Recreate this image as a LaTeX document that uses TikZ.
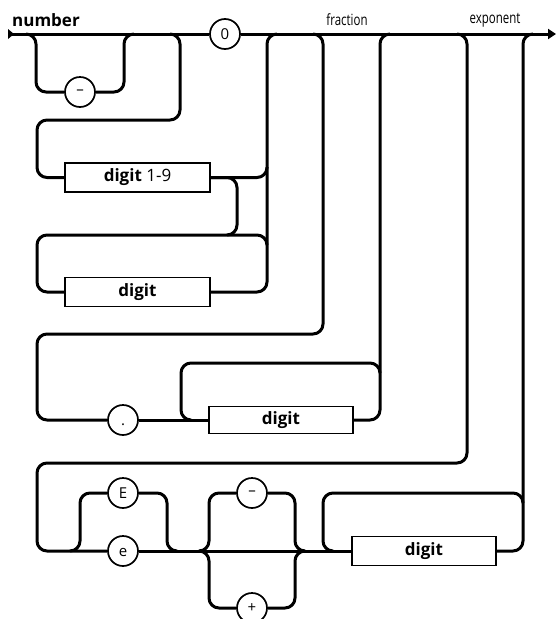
\documentclass[tikz,border=0pt]{standalone}
\usepackage{fontspec}
\setmainfont{Open Sans}
\newfontfamily\condfont[FakeStretch=0.74]{Open Sans}
\usetikzlibrary{arrows.meta}
\begin{document}
\begin{tikzpicture}[x=1pt,y=-1pt,
  rail/.style={line width=3pt, rounded corners=10pt, line join=round},
  term/.style={circle, draw, line width=1.7pt, fill=white, minimum size=30pt, inner sep=0pt, font=\fontsize{15}{15}\selectfont},
  nonterm/.style={rectangle, draw, line width=1.7pt, fill=white, minimum width=145pt, minimum height=29pt, inner sep=0pt, font=\fontsize{17}{17}\selectfont},
  lbl/.style={font=\condfont\fontsize{15.5}{15.5}\selectfont, inner sep=0pt}
]
\useasboundingbox (0,0) rectangle (556,619);

% labels
\node[font=\bfseries\fontsize{17}{17}\selectfont, anchor=west, inner sep=0pt] (title) at (12,20) {number};
\node[lbl] (frac) at (347,20) {fraction};
\node[lbl] (expo) at (495,20) {exponent};

% terminals
\node[term] (zero) at (225,34) {0};
\node[term] (neg) at (80,92) {–};
\node[term] (dot) at (123,420) {\vphantom{0}.};
\node[term] (bigE) at (123,493) {E};
\node[term] (smalle) at (123,551) {\vphantom{0}e};
\node[term] (expneg) at (252,493) {–};
\node[term] (exppos) at (252,608) {+};

% non-terminals
\node[nonterm] (d19) at (137.5,177.5) {\textbf{digit} 1-9};
\node[nonterm] (dig) at (137.5,292) {\textbf{digit}};
\node[nonterm, minimum width=144pt, minimum height=27pt] (fdig) at (281,420) {\textbf{digit}};
\node[nonterm, minimum width=144pt] (edig) at (424,551) {\textbf{digit}};

\coordinate (start) at (9,34);
\coordinate (finish) at (556,34);

% main line
\fill (8,29) -- (14,34) -- (8,39) -- cycle;
\draw[rail] (start) -- (zero.west);
\draw[rail, -{Triangle[length=8pt,width=10pt]}] (zero.east) -- (finish);

% optional minus
\draw[rail] (26,34) -- (36,34) -- (36,92) -- (neg.west);
\draw[rail] (neg.east) -- (124,92) -- (124,34) -- (134,34);

% integer part
\draw[rail] (170,34) -- (180,34) -- (180,120) -- (37,120) -- (37,177.5) -- (d19.west);
\draw[rail] (d19.east) -- (267,177.5) -- (267,167);
\draw[rail] (d19.east) -- (237,177.5) -- (237,235) -- (227,235);
\draw[rail] (dig.east) -- (267,292) -- (267,34) -- (277,34);
\draw[rail] (267,245) -- (267,235) -- (37,235) -- (37,292) -- (dig.west);

% fraction
\draw[rail] (313,34) -- (323,34) -- (323,334) -- (37,334) -- (37,420) -- (dot.west);
\draw[rail] (dot.east) -- (fdig.west);
\draw[rail] (fdig.east) -- (380,420) -- (380,34) -- (390,34);
\draw[rail] (380,373) -- (380,363) -- (181,363) -- (181,420) -- (191,420);

% exponent
\draw[rail] (457,34) -- (467,34) -- (467,463) -- (37,463) -- (37,551) -- (smalle.west);
\draw[rail] (smalle.east) -- (edig.west);
\draw[rail] (70,551) -- (80,551) -- (80,493) -- (bigE.west);
\draw[rail] (bigE.east) -- (167,493) -- (167,551) -- (177,551);
\draw[rail] (199,551) -- (209,551) -- (209,493) -- (expneg.west);
\draw[rail] (expneg.east) -- (295,493) -- (295,551) -- (305,551);
\draw[rail] (199,551) -- (209,551) -- (209,608) -- (exppos.west);
\draw[rail] (exppos.east) -- (295,608) -- (295,551) -- (305,551);
\draw[rail] (edig.east) -- (523,551) -- (523,34) -- (533,34);
\draw[rail] (523,503) -- (523,493) -- (323,493) -- (323,551) -- (333,551);
\end{tikzpicture}
\end{document}
